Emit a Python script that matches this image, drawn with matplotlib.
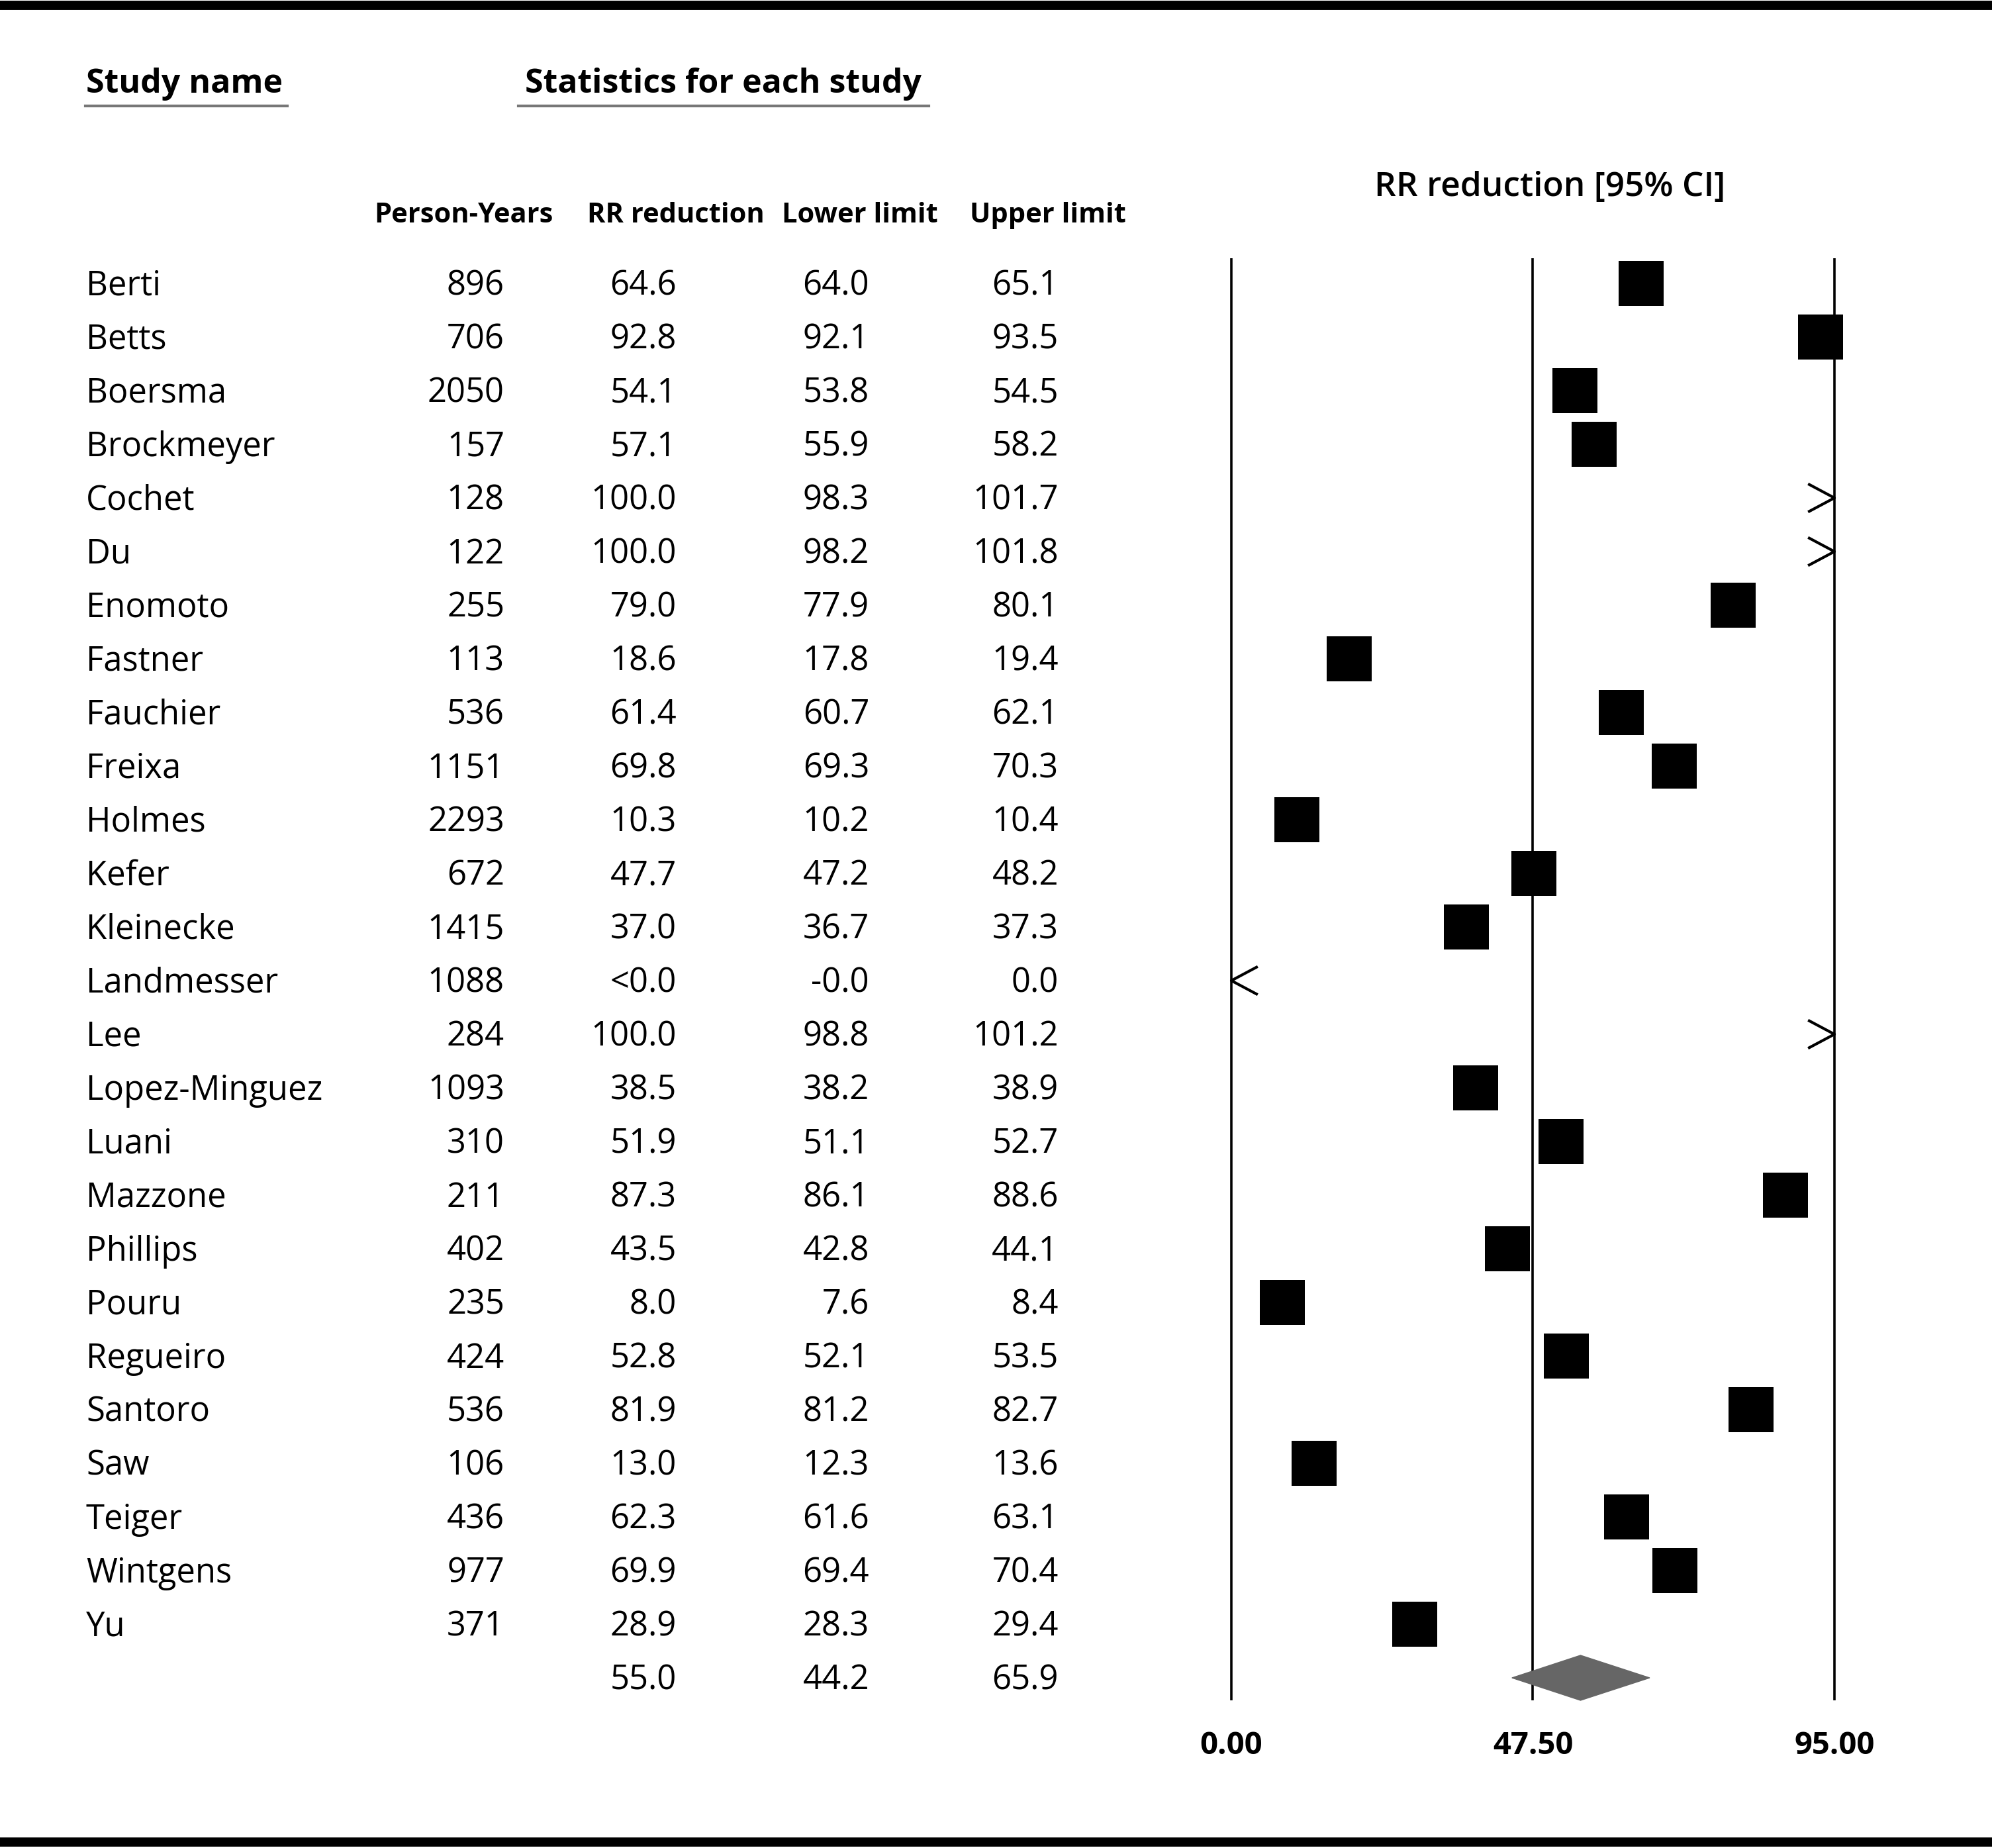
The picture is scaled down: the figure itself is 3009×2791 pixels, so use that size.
import matplotlib
matplotlib.use("Agg")
import matplotlib.pyplot as plt
from matplotlib.patches import Polygon
from matplotlib.transforms import blended_transform_factory

plt.rcParams['font.family'] = ['Open Sans', 'DejaVu Sans']

###############################################################
# Data
###############################################################
study_names = ["Berti", "Betts", "Boersma", "Brockmeyer", "Cochet", "Du", "Enomoto",
               "Fastner", "Fauchier", "Freixa", "Holmes", "Kefer", "Kleinecke",
               "Landmesser", "Lee", "Lopez-Minguez", "Luani", "Mazzone", "Phillips",
               "Pouru", "Regueiro", "Santoro", "Saw", "Teiger", "Wintgens", "Yu"]
person_years = [896, 706, 2050, 157, 128, 122, 255, 113, 536, 1151, 2293, 672, 1415,
                1088, 284, 1093, 310, 211, 402, 235, 424, 536, 106, 436, 977, 371]
rr_reduction = [64.6, 92.8, 54.1, 57.1, 100.0, 100.0, 79.0, 18.6, 61.4, 69.8, 10.3, 47.7,
                37.0, -0.01, 100.0, 38.5, 51.9, 87.3, 43.5, 8.0, 52.8, 81.9, 13.0, 62.3,
                69.9, 28.9]
lower_limit = [64.0, 92.1, 53.8, 55.9, 98.3, 98.2, 77.9, 17.8, 60.7, 69.3, 10.2, 47.2,
               36.7, -0.02, 98.8, 38.2, 51.1, 86.1, 42.8, 7.6, 52.1, 81.2, 12.3, 61.6,
               69.4, 28.3]
upper_limit = [65.1, 93.5, 54.5, 58.2, 101.7, 101.8, 80.1, 19.4, 62.1, 70.3, 10.4, 48.2,
               37.3, 0.0, 101.2, 38.9, 52.7, 88.6, 44.1, 8.4, 53.5, 82.7, 13.6, 63.1,
               70.4, 29.4]
pooled = [55.0, 44.2, 65.9]   # estimate, lower, upper
axis_ticks = [0.0, 47.5, 95.0]

###############################################################
# Figure: one axes over the whole page, x in RR units, y in rows
###############################################################
W, H = 3009, 2791
fig = plt.figure(figsize=(W / 100, H / 100), dpi=100)
ax = fig.add_axes([0, 0, 1, 1])
ax.axis('off')

px_per_unit = (2771 - 1860) / 95.0
row_px = 81.0
first_row_px = 428.0
ax.set_xlim(-1860 / px_per_unit, (W - 1860) / px_per_unit)
ax.set_ylim((H - first_row_px) / row_px, -first_row_px / row_px)

fx = blended_transform_factory(fig.transFigure, ax.transData)
n = len(study_names)
font_row = 36.5
dy = 0.05   # small nudge so the text sits like the original

# Text columns
for i in range(n):
    y = i + dy
    ax.text(130 / W, y, study_names[i], transform=fx, ha='left', va='center', fontsize=font_row)
    ax.text(762 / W, y, str(person_years[i]), transform=fx, ha='right', va='center', fontsize=font_row)
    rr_txt = "<0.0" if rr_reduction[i] < 0 else f"{rr_reduction[i]:.1f}"
    ax.text(1022 / W, y, rr_txt, transform=fx, ha='right', va='center', fontsize=font_row)
    ax.text(1313 / W, y, f"{lower_limit[i]:.1f}", transform=fx, ha='right', va='center', fontsize=font_row)
    ax.text(1599 / W, y, f"{upper_limit[i]:.1f}", transform=fx, ha='right', va='center', fontsize=font_row)

ax.text(1022 / W, n + dy, f"{pooled[0]:.1f}", transform=fx, ha='right', va='center', fontsize=font_row)
ax.text(1313 / W, n + dy, f"{pooled[1]:.1f}", transform=fx, ha='right', va='center', fontsize=font_row)
ax.text(1599 / W, n + dy, f"{pooled[2]:.1f}", transform=fx, ha='right', va='center', fontsize=font_row)

# Headers
fig.text(130 / W, 1 - 127 / H, "Study name", ha='left', va='center', fontsize=36, fontweight='bold')
fig.text(793 / W, 1 - 127 / H, "Statistics for each study", ha='left', va='center', fontsize=36,
         fontweight='bold')
fig.add_artist(plt.Line2D([129 / W, 434 / W], [1 - 160 / H] * 2, color='#777777', lw=3))
fig.add_artist(plt.Line2D([783 / W, 1403 / W], [1 - 160 / H] * 2, color='#777777', lw=3))

col_heads = [("Person-Years", 700), ("RR reduction", 1021), ("Lower limit", 1299), ("Upper limit", 1583)]
for label, xc in col_heads:
    fig.text(xc / W, 1 - 326 / H, label, ha='center', va='center', fontsize=30, fontweight='bold')
fig.text(2341 / W, 1 - 283 / H, "RR reduction [95% CI]", ha='center', va='center', fontsize=37,
         fontweight='semibold')

# Vertical reference lines and tick labels
y_top, y_bot = -0.47, n + 0.42
ax.vlines(axis_ticks, y_top, y_bot, colors='black', lw=2.6)
for t in axis_ticks:
    ax.text(t, n + 1.27, f"{t:.2f}", ha='center', va='center', fontsize=34, fontweight='bold')

# Study markers
x_min, x_max = axis_ticks[0], axis_ticks[-1]
arm_x = 38 / px_per_unit
arm_y = 0.25
for i in range(n):
    v = rr_reduction[i]
    if v > x_max:
        ax.plot([x_max - arm_x, x_max, x_max - arm_x], [i - arm_y, i, i + arm_y], color='black', lw=3)
    elif v < x_min:
        ax.plot([x_min + arm_x, x_min, x_min + arm_x], [i - arm_y, i, i + arm_y], color='black', lw=3)
    else:
        ax.scatter(v, i, marker='s', s=(68 * 0.72) ** 2, color='black', linewidths=0, zorder=3)

# Pooled diamond
h = 0.42
ax.add_patch(Polygon([(pooled[1], n), (pooled[0], n - h), (pooled[2], n), (pooled[0], n + h)],
                     closed=True, facecolor='#666666', edgecolor='#666666', lw=1, zorder=3))

# Top and bottom rules
fig.add_artist(plt.Line2D([0, 1], [1 - 8 / H] * 2, color='black', lw=10))
fig.add_artist(plt.Line2D([0, 1], [1 - 2782 / H] * 2, color='black', lw=10))

fig.savefig("out.png", dpi=100)
